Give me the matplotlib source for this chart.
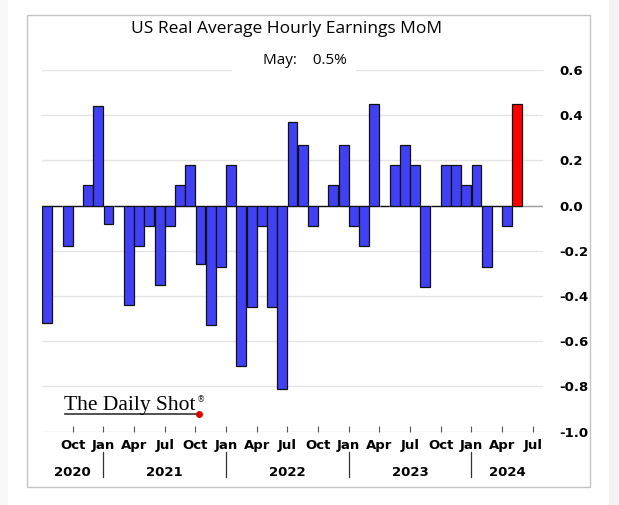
import pandas as pd
import matplotlib
matplotlib.use('Agg')
import matplotlib.pyplot as plt
import matplotlib.transforms as mtrans
from matplotlib.patches import Rectangle
from matplotlib.lines import Line2D

# ------------------- DATA -------------------
months = pd.period_range('2020-07', '2024-05', freq='M')
values = [-0.52, 0.0, -0.18, 0.0, 0.09, 0.44,
          -0.08, 0.0, -0.44, -0.18, -0.09, -0.35, -0.09, 0.09, 0.18, -0.26, -0.53, -0.27,
          0.18, -0.71, -0.45, -0.09, -0.45, -0.81, 0.37, 0.27, -0.09, 0.0, 0.09, 0.27,
          -0.09, -0.18, 0.45, 0.0, 0.18, 0.27, 0.18, -0.36, 0.0, 0.18, 0.18, 0.09,
          0.18, -0.27, 0.0, -0.09, 0.45]
tick_labels = ['Oct', 'Jan', 'Apr', 'Jul'] * 4
years = ['2020', '2021', '2022', '2023', '2024']
yticks = [0.6, 0.4, 0.2, 0.0, -0.2, -0.4, -0.6, -0.8, -1.0]

W, H = 619, 505
fig = plt.figure(figsize=(W / 100, H / 100), dpi=100)
fig.patch.set_facecolor('white')


def fx(px):
    return px / W


def fy(py):
    return (H - py) / H


# light strips at the edges + frame
fig.add_artist(Rectangle((fx(609), 0), fx(10), 1, transform=fig.transFigure,
                         facecolor='#f3f3f3', edgecolor='none', zorder=-5))
fig.add_artist(Rectangle((0, 0), fx(8), 1, transform=fig.transFigure,
                         facecolor='#f8f8f8', edgecolor='none', zorder=-5))
fig.add_artist(Rectangle((fx(27), fy(487)), fx(563), fy(15) - fy(487), transform=fig.transFigure,
                         facecolor='none', edgecolor='#c4c4c4', lw=1, zorder=-4))

ax = fig.add_axes([fx(42), fy(431.7), fx(543) - fx(42), fy(70) - fy(431.7)])

# ------------------- BARS -------------------
x = [i + 0.5 for i in range(len(months))]
colors = ['#4040f5'] * (len(values) - 1) + ['#ff0000']
ax.bar(x, values, width=0.97, color=colors, edgecolor='#111111', linewidth=0.9, zorder=3)

ax.set_xlim(0, 49)
ax.set_ylim(-1.0, 0.6)
ax.axhline(0, color='#a0a0a0', lw=1, zorder=2)
for yv in yticks[:-1]:
    ax.axhline(yv, color='#e4e4e4', lw=1, zorder=1)
ax.axhline(-1.0, color='#d8d8d8', lw=1, zorder=1)

for s in ax.spines.values():
    s.set_visible(False)

ax.yaxis.tick_right()
ax.set_yticks(yticks)
ax.set_yticklabels(['%.1f' % v for v in yticks], fontweight='bold', fontsize=9.5)
ax.tick_params(axis='y', length=0, pad=12)

qticks = list(range(3, 49, 3))
ax.set_xticks(qticks)
ax.set_xticklabels(tick_labels, fontweight='bold', fontsize=9.5)
ax.tick_params(axis='x', direction='in', length=4, width=0.8, color='#555555', pad=5)

# year labels + separators
trans = mtrans.blended_transform_factory(ax.transData, fig.transFigure)
bounds = [0, 6, 18, 30, 42, 49]
for k, yr in enumerate(years):
    ax.text((bounds[k] + bounds[k + 1]) / 2, fy(472), yr, transform=trans,
            ha='center', va='center', fontweight='bold', fontsize=9.5, clip_on=False)
for b in bounds[1:-1]:
    ax.add_line(Line2D([b, b], [fy(452), fy(477)], transform=trans, color='#333333',
                       lw=0.9, clip_on=False))

# ------------------- TEXT -------------------
fig.text(fx(287), fy(29), 'US Real Average Hourly Earnings MoM', ha='center', va='center',
         fontsize=12.5, family='Open Sans')
fig.add_artist(Rectangle((fx(232), fy(75)), fx(124), fy(65) - fy(75), transform=fig.transFigure,
                         facecolor='white', edgecolor='none', zorder=5))
fig.text(fx(305), fy(61), 'May:    0.5%', ha='center', va='center', fontsize=11,
         family='Open Sans', zorder=6)

# logo
fig.text(fx(64), fy(410), 'The Daily Shot', ha='left', va='baseline', fontsize=15.5,
         family='Liberation Serif', color='black')
fig.text(fx(197), fy(400), '®', ha='left', va='center', fontsize=6,
         family='DejaVu Sans', color='#222222')
fig.add_artist(Line2D([fx(65), fx(198)], [fy(414), fy(414)], transform=fig.transFigure,
                      color='#333333', lw=1.2))
fig.add_artist(Line2D([fx(199)], [fy(413.5)], transform=fig.transFigure, marker='o',
                      markersize=4, color='#dd0000', lw=0))

fig.savefig('out.png', dpi=100)
